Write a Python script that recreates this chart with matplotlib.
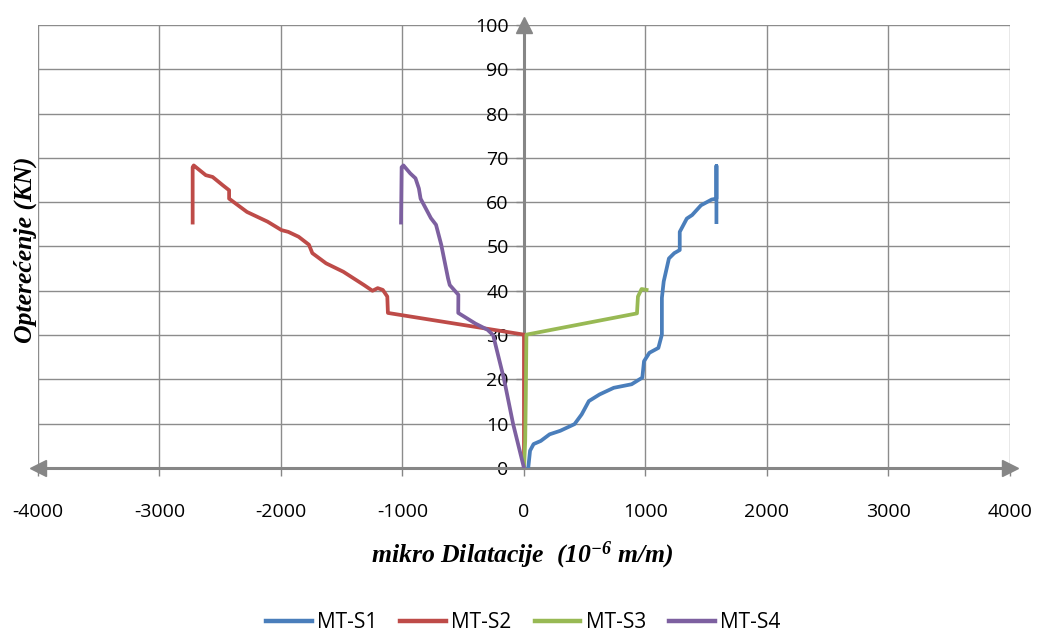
import matplotlib
matplotlib.use('Agg')
import matplotlib.pyplot as plt

# micro strain (x) vs load in kN (y)
s1_x = [35, 50, 79, 138, 211, 299, 416, 475, 534, 622, 739, 886, 974, 988, 1032, 1106,
        1135, 1135, 1150, 1193, 1237, 1282, 1282, 1340, 1384, 1457, 1545, 1584, 1584, 1584]
s1_y = [0, 3.9, 5.4, 6.1, 7.6, 8.4, 9.9, 12.1, 15.1, 16.6, 18.1, 18.9, 20.4, 24.1, 26.0, 27.1,
        30.1, 38.4, 42.1, 47.3, 48.5, 49.2, 53.3, 56.3, 57.1, 59.3, 60.6, 60.8, 68.2, 55.5]

s2_x = [0, 0, -1120, -1125, -1162, -1204, -1247, -1317, -1487, -1629, -1742, -1770, -1855,
        -1940, -1996, -2110, -2280, -2393, -2427, -2427, -2478, -2563, -2619, -2718, -2727, -2727]
s2_y = [0, 30.1, 35.0, 38.7, 40.2, 40.6, 40.0, 41.3, 44.3, 46.2, 48.5, 50.4, 52.2,
        53.3, 53.7, 55.6, 57.8, 60.1, 60.8, 62.7, 63.8, 65.7, 66.1, 68.3, 67.9, 55.4]

s3_x = [0, 10, 15, 20, 930, 938, 968, 1009]
s3_y = [0, 6, 16, 30.1, 34.9, 38.7, 40.4, 40.2]

s4_x = [0, -90, -164, -254, -300, -400, -541, -540, -611, -625, -681, -724, -766, -851,
        -865, -893, -936, -992, -1007, -1012]
s4_y = [0, 10, 20, 30, 31.2, 32.6, 35.0, 39.1, 41.3, 42.8, 50.4, 54.9, 56.4, 60.8,
        63.1, 65.4, 66.5, 68.3, 67.9, 55.4]

series = [('MT-S1', s1_x, s1_y, '#4A7EBB'),
          ('MT-S2', s2_x, s2_y, '#BE4B48'),
          ('MT-S3', s3_x, s3_y, '#98B954'),
          ('MT-S4', s4_x, s4_y, '#7D60A0')]

plt.rcParams['font.family'] = ['Open Sans', 'DejaVu Sans']
plt.rcParams['axes.unicode_minus'] = False
plt.rcParams['mathtext.fontset'] = 'custom'
plt.rcParams['mathtext.rm'] = 'Liberation Serif:italic:bold'
plt.rcParams['mathtext.it'] = 'Liberation Serif:italic:bold'

fig = plt.figure(figsize=(10.38, 6.33), dpi=100)
ax = fig.add_axes([0.0366, 0.2607, 0.9364, 0.6998])

axis_col = '#868686'
for name, xs, ys, col in series:
    ax.plot(xs, ys, color=col, linewidth=2.7, label=name, solid_joinstyle='round')

ax.set_xlim(-4000, 4000)
ax.set_ylim(0, 100)
ax.set_xticks(range(-4000, 4001, 1000))
ax.set_yticks(range(0, 101, 10))
ax.grid(True, color='#8c8c8c', linewidth=1)
ax.set_axisbelow(True)

ax.spines['left'].set_position(('data', 0))
ax.spines['right'].set_visible(False)
ax.spines['top'].set_visible(False)
for sp in ['left', 'bottom']:
    ax.spines[sp].set_color(axis_col)
    ax.spines[sp].set_linewidth(2.2)
    ax.spines[sp].set_zorder(1.5)

ax.tick_params(axis='y', length=6, width=1, color=axis_col, labelsize=14, pad=5)
ax.tick_params(axis='x', length=6, width=1, color=axis_col, labelsize=14, pad=19)

# arrow heads on the axes
ax.plot([4000], [0], marker='>', markersize=11, color=axis_col, clip_on=False, zorder=1.6)
ax.plot([-4000], [0], marker='<', markersize=11, color=axis_col, clip_on=False, zorder=1.6)
ax.plot([0], [100], marker='^', markersize=11, color=axis_col, clip_on=False, zorder=1.6)

fig.text(0.024, 0.605, 'Opterećenje (KN)', family='Liberation Serif', style='italic',
         fontweight='bold', fontsize=18.5, rotation=90, ha='center', va='center')
fig.text(0.503, 0.122, r'mikro Dilatacije  (10$^{-6}$ m/m)', family='Liberation Serif',
         style='italic', fontweight='bold', fontsize=18.5, ha='center', va='center')

leg = fig.legend(loc='center', bbox_to_anchor=(0.504, 0.016), ncol=4, frameon=False,
                 fontsize=15, handlelength=2.2, columnspacing=1.1, handletextpad=0.25)
for line in leg.get_lines():
    line.set_linewidth(3.2)

plt.savefig('out.png', dpi=100)
plt.close()
